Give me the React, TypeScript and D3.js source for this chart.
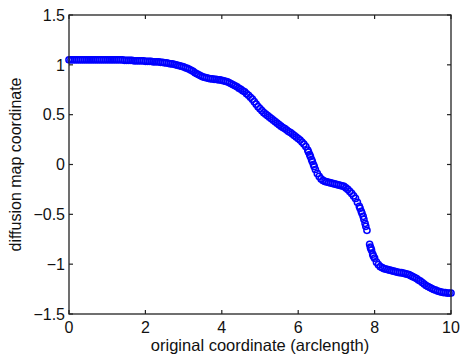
import React from "react";
import * as d3 from "d3";

const xTicks = [0, 2, 4, 6, 8, 10];
const yTicks = [-1.5, -1, -0.5, 0, 0.5, 1, 1.5];

const xs = [
  0.0, 0.05, 0.1, 0.15, 0.2, 0.25, 0.3, 0.35, 0.4, 0.45, 0.5, 0.55, 0.6, 0.65, 0.7, 0.75, 0.8, 0.85, 0.9, 0.95,
  1.0, 1.05, 1.1, 1.15, 1.2, 1.25, 1.3, 1.35, 1.4, 1.45, 1.5, 1.55, 1.6, 1.65, 1.7, 1.75, 1.8, 1.85, 1.9, 1.95,
  2.0, 2.05, 2.1, 2.15, 2.2, 2.25, 2.3, 2.35, 2.4, 2.45, 2.5, 2.55, 2.6, 2.65, 2.7, 2.75, 2.8, 2.85, 2.9, 2.95,
  3.0, 3.05, 3.1, 3.15, 3.2, 3.25, 3.3, 3.35, 3.4, 3.45, 3.5, 3.55, 3.6, 3.65, 3.7, 3.75, 3.8, 3.85, 3.9, 3.95,
  4.0, 4.05, 4.1, 4.15, 4.2, 4.25, 4.3, 4.35, 4.4, 4.45, 4.5, 4.55, 4.6, 4.65, 4.7, 4.75, 4.8, 4.85, 4.9, 4.95,
  5.0, 5.05, 5.1, 5.15, 5.2, 5.25, 5.3, 5.35, 5.4, 5.45, 5.5, 5.55, 5.6, 5.65, 5.7, 5.75, 5.8, 5.85, 5.9, 5.95,
  6.0, 6.05, 6.1, 6.15, 6.2, 6.25, 6.27, 6.3, 6.32, 6.35, 6.37, 6.4, 6.42, 6.45, 6.5, 6.55, 6.6, 6.65, 6.7, 6.75,
  6.8, 6.85, 6.9, 6.95, 7.0, 7.05, 7.1, 7.15, 7.2, 7.25, 7.3, 7.35, 7.4, 7.45, 7.5, 7.55, 7.6, 7.62, 7.65, 7.67,
  7.7, 7.72, 7.75, 7.77, 7.8, 7.87, 7.89, 7.9, 7.92, 7.95, 7.97, 8.0, 8.05, 8.1, 8.15, 8.2, 8.25, 8.3, 8.35, 8.4,
  8.45, 8.5, 8.55, 8.6, 8.65, 8.7, 8.75, 8.8, 8.85, 8.9, 8.95, 9.0, 9.05, 9.1, 9.15, 9.2, 9.25, 9.3, 9.35, 9.4,
  9.45, 9.5, 9.55, 9.6, 9.65, 9.7, 9.75, 9.8, 9.85, 9.9, 9.95, 10.0,
];

const ys = [
  1.05, 1.05, 1.05, 1.05, 1.05, 1.05, 1.05, 1.05, 1.05, 1.05, 1.05, 1.05, 1.05, 1.05, 1.05, 1.05, 1.05, 1.05, 1.05, 1.05,
  1.05, 1.05, 1.05, 1.05, 1.05, 1.05, 1.05, 1.05, 1.05, 1.045, 1.045, 1.045, 1.045, 1.045, 1.04, 1.04, 1.04, 1.04, 1.04, 1.04,
  1.035, 1.035, 1.035, 1.035, 1.03, 1.03, 1.03, 1.03, 1.025, 1.025, 1.02, 1.02, 1.015, 1.01, 1.01, 1.005, 1.0, 0.995, 0.99, 0.985,
  0.98, 0.97, 0.965, 0.955, 0.945, 0.935, 0.92, 0.91, 0.9, 0.89, 0.88, 0.875, 0.87, 0.865, 0.86, 0.86, 0.855, 0.855, 0.85, 0.85,
  0.845, 0.84, 0.835, 0.83, 0.82, 0.81, 0.8, 0.79, 0.78, 0.765, 0.755, 0.74, 0.73, 0.71, 0.695, 0.675, 0.655, 0.63, 0.605, 0.58,
  0.56, 0.54, 0.52, 0.505, 0.49, 0.475, 0.46, 0.445, 0.43, 0.415, 0.4, 0.385, 0.37, 0.36, 0.345, 0.33, 0.32, 0.305, 0.29, 0.275,
  0.26, 0.245, 0.225, 0.205, 0.18, 0.145, 0.125, 0.1, 0.08, 0.05, 0.03, 0.0, -0.02, -0.05, -0.09, -0.12, -0.145, -0.16, -0.17, -0.175,
  -0.18, -0.185, -0.19, -0.195, -0.2, -0.205, -0.21, -0.215, -0.22, -0.235, -0.25, -0.27, -0.29, -0.315, -0.34, -0.38, -0.42, -0.44, -0.47, -0.49,
  -0.52, -0.55, -0.59, -0.62, -0.66, -0.8, -0.83, -0.84, -0.86, -0.9, -0.92, -0.94, -0.98, -1.005, -1.025, -1.035, -1.045, -1.05, -1.055, -1.06,
  -1.065, -1.07, -1.075, -1.08, -1.085, -1.085, -1.09, -1.095, -1.1, -1.105, -1.115, -1.125, -1.135, -1.145, -1.16, -1.17, -1.185, -1.2, -1.215, -1.225,
  -1.235, -1.245, -1.255, -1.26, -1.27, -1.275, -1.28, -1.285, -1.285, -1.29, -1.29, -1.29,
];

const xLabel = "original coordinate (arclength)";
const yLabel = "diffusion map coordinate";

const W = 462;
const H = 362;
const L = 69;
const R = 451;
const T = 15;
const B = 314;

const fmt = (v: number) => (v < 0 ? "\u2212" + String(Math.abs(v)) : String(v));

export default function App() {
  const x = d3.scaleLinear().domain([0, 10]).range([L, R]);
  const y = d3.scaleLinear().domain([-1.5, 1.5]).range([B, T]);
  const pts = xs.map((v, i) => [v, ys[i]] as [number, number]);
  const font = "Arial, 'Liberation Sans', Helvetica, sans-serif";
  const tl = 4;
  return (
    <svg
      width={W}
      height={H}
      style={{ position: "absolute", left: 0, top: 0, background: "#fff" }}
      fontFamily={font}
    >
      <rect x={0} y={0} width={W} height={H} fill="#fff" />
      {pts.map((p, i) => (
        <circle key={i} cx={x(p[0])} cy={y(p[1])} r={3.1} fill="none" stroke="#0000ff" strokeWidth={1.5} />
      ))}
      <rect x={L} y={T} width={R - L} height={B - T} fill="none" stroke="#222" strokeWidth={1.3} />
      {xTicks.map((t) => (
        <g key={"x" + t}>
          <line x1={x(t)} x2={x(t)} y1={B} y2={B - tl} stroke="#222" strokeWidth={1.2} />
          <line x1={x(t)} x2={x(t)} y1={T} y2={T + tl} stroke="#222" strokeWidth={1.2} />
          <text x={x(t)} y={333} textAnchor="middle" fontSize={16} fill="#111">
            {fmt(t)}
          </text>
        </g>
      ))}
      {yTicks.map((t) => (
        <g key={"y" + t}>
          <line x1={L} x2={L + tl} y1={y(t)} y2={y(t)} stroke="#222" strokeWidth={1.2} />
          <line x1={R} x2={R - tl} y1={y(t)} y2={y(t)} stroke="#222" strokeWidth={1.2} />
          <text x={65} y={y(t)} dy="0.36em" textAnchor="end" fontSize={16} fill="#111">
            {fmt(t)}
          </text>
        </g>
      ))}
      <text x={(L + R) / 2} y={351} textAnchor="middle" fontSize={16.5} fill="#111">
        {xLabel}
      </text>
      <text
        transform={`translate(21,${(T + B) / 2}) rotate(-90)`}
        textAnchor="middle"
        fontSize={16}
        fill="#111"
      >
        {yLabel}
      </text>
    </svg>
  );
}
